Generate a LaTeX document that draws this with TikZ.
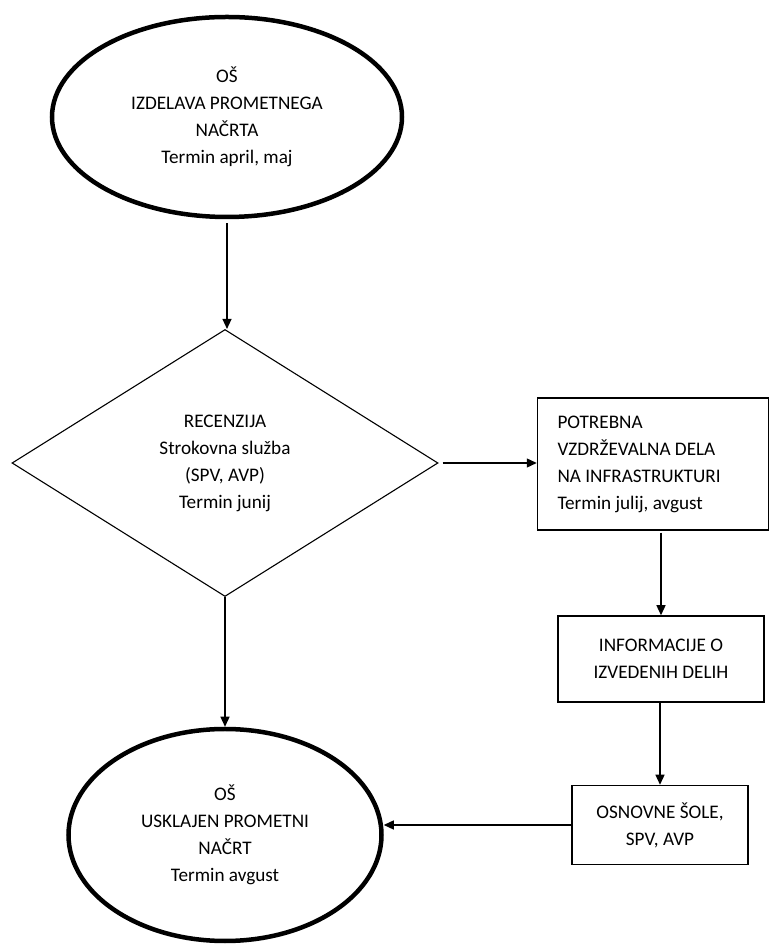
\documentclass[tikz,border=0pt]{standalone}
\usepackage{fontspec}
\setmainfont{Carlito}
\usetikzlibrary{shapes.geometric,arrows.meta}

\begin{document}
\begin{tikzpicture}[
  x=1pt, y=1pt,
  node distance=346pt,
  txt/.style={font=\fontsize{19.2}{27}\selectfont, align=center},
  oval/.style={txt, ellipse, draw, line width=4.5pt, inner sep=0pt},
  decision/.style={txt, diamond, draw, line width=1.1pt, inner sep=0pt, minimum width=426pt, minimum height=267pt},
  box/.style={txt, draw, line width=1.5pt, inner sep=0pt},
  arrow/.style={-{Triangle[length=10pt,width=9pt]}, line width=1.3pt}
]
\useasboundingbox (0,0) rectangle (770,945);

\node[oval, minimum width=350pt, minimum height=200pt] (izdelava) at (227,828) {OŠ\\IZDELAVA PROMETNEGA\\NAČRTA\\Termin april, maj};
\node[decision, below of=izdelava, xshift=-2pt] (recenzija) {RECENZIJA\\Strokovna služba\\(SPV, AVP)\\Termin junij};
\node[oval, below of=recenzija, yshift=-26pt, minimum width=313pt, minimum height=212pt] (usklajen) {OŠ\\USKLAJEN PROMETNI\\NAČRT\\Termin avgust};
\node[box, right of=recenzija, xshift=82pt, yshift=-1pt, align=flush left, inner xsep=20pt, text width=191pt, minimum height=132pt] (potrebna) {POTREBNA\\VZDRŽEVALNA DELA\\NA INFRASTRUKTURI\\Termin julij, avgust};
\node[box, below of=potrebna, xshift=8pt, yshift=151pt, minimum width=206pt, minimum height=86pt] (informacije) {INFORMACIJE O\\IZVEDENIH DELIH};
\node[box, below of=informacije, xshift=-1pt, yshift=180pt, minimum width=176pt, minimum height=79pt] (osnovne) {OSNOVNE ŠOLE,\\SPV, AVP};

\draw[arrow, shorten <=4pt] (izdelava.south) -- (izdelava.south |- recenzija.north);
\draw[arrow, shorten <=4pt] (recenzija.east) -- (potrebna.west |- recenzija.east);
\draw[arrow] (recenzija.south) -- (usklajen.north);
\draw[arrow, shorten <=2pt] (informacije.north |- potrebna.south) -- (informacije.north);
\draw[arrow] (osnovne.north |- informacije.south) -- (osnovne.north);
\draw[arrow] (osnovne.west) -- (osnovne.west -| usklajen.east);
\end{tikzpicture}
\end{document}
